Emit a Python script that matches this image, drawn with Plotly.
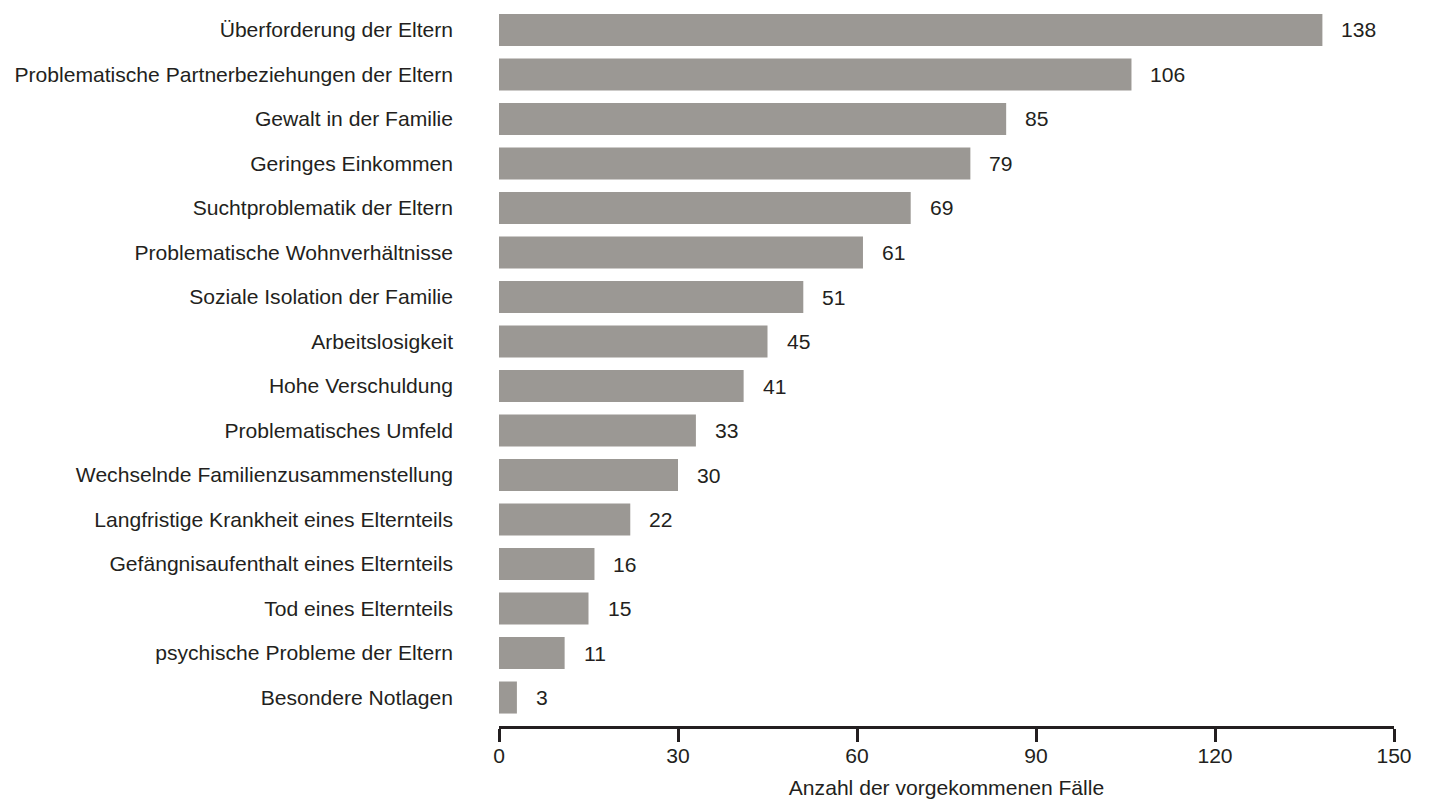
import plotly.graph_objects as go

# Risk factors in the family and how often each occurred
categories = [
    "Überforderung der Eltern",
    "Problematische Partnerbeziehungen der Eltern",
    "Gewalt in der Familie",
    "Geringes Einkommen",
    "Suchtproblematik der Eltern",
    "Problematische Wohnverhältnisse",
    "Soziale Isolation der Familie",
    "Arbeitslosigkeit",
    "Hohe Verschuldung",
    "Problematisches Umfeld",
    "Wechselnde Familienzusammenstellung",
    "Langfristige Krankheit eines Elternteils",
    "Gefängnisaufenthalt eines Elternteils",
    "Tod eines Elternteils",
    "psychische Probleme der Eltern",
    "Besondere Notlagen",
]
counts = [138, 106, 85, 79, 69, 61, 51, 45, 41, 33, 30, 22, 16, 15, 11, 3]
x_ticks = [0, 30, 60, 90, 120, 150]
x_title = "Anzahl der vorgekommenen Fälle"

BAR = "#9b9894"
INK = "#231f20"
FONT = "Liberation Sans, Arial, sans-serif"
FS = 21.1

fig = go.Figure(
    go.Bar(
        x=counts,
        y=categories,
        orientation="h",
        marker=dict(color=BAR, line=dict(width=0)),
        width=0.72,
        hoverinfo="x+y",
    )
)

# value labels just past the end of each bar
for cat, val in zip(categories, counts):
    fig.add_annotation(
        x=val, y=cat, text=str(val), showarrow=False,
        xanchor="left", yanchor="middle", xshift=17,
        font=dict(family=FONT, size=FS, color=INK),
    )

fig.update_layout(
    width=1431, height=804,
    margin=dict(l=499, r=37, t=8, b=78),
    paper_bgcolor="white", plot_bgcolor="white",
    showlegend=False,
    font=dict(family=FONT, size=FS, color=INK),
    bargap=0.28,
)
fig.update_xaxes(
    range=[0, 150],
    tickvals=x_ticks,
    ticktext=[str(v) for v in x_ticks],
    showgrid=False, zeroline=False,
    showline=True, linecolor=INK, linewidth=2.5,
    ticks="outside", ticklen=13, tickwidth=2.5, tickcolor=INK,
    ticklabelstandoff=-4,
    tickfont=dict(family=FONT, size=FS, color=INK),
    title=dict(text=x_title, font=dict(family=FONT, size=FS, color=INK), standoff=15),
)
fig.update_yaxes(
    type="category",
    categoryorder="array", categoryarray=categories,
    range=[15.64, -0.494],
    showgrid=False, zeroline=False, showline=False,
    ticks="", ticklabelstandoff=45,
    tickfont=dict(family=FONT, size=FS, color=INK),
)

fig.write_html("out.html")
